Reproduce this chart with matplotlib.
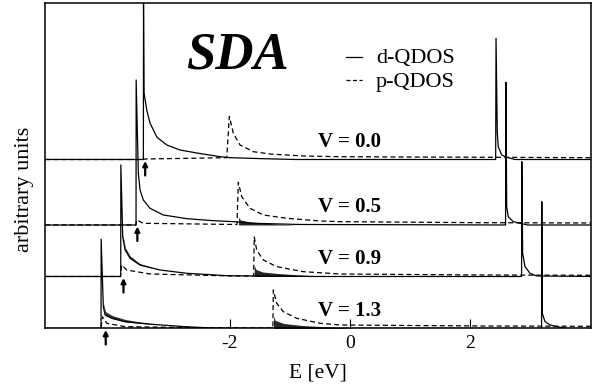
"""
SDA quasi-particle densities of states (d- and p-QDOS) for several V,
stacked with vertical offsets.
"""

import numpy as np
import matplotlib
matplotlib.use("Agg")
import matplotlib.pyplot as plt
from matplotlib.lines import Line2D

plt.rcParams['font.family'] = ['Liberation Serif', 'DejaVu Serif']
plt.rcParams['axes.unicode_minus'] = False

# =============================================================================
# Data (E in eV, heights in arbitrary units)
# =============================================================================

v_labels = ["V = 0.0", "V = 0.5", "V = 0.9", "V = 1.3"]
offsets = [1.69, 1.035, 0.52, 0.0]

# V = 0.0
d00_E = [-5.06, -3.43, -3.428, -3.419, -3.374, -3.320, -3.208, -3.042, -2.822, -2.544,
         -2.158, -1.992, -1.444, -0.9, 2.418, 2.424, 2.445, 2.461, 2.518, 2.601, 2.74, 4.02]
d00_h = [0, 0, 1.65, 0.665, 0.495, 0.365, 0.225, 0.145, 0.095, 0.065,
         0.028, 0.018, 0.008, 0.0, 0, 1.212, 0.265, 0.128, 0.045, 0.022, 0, 0]
p00_E = [-5.06, -3.43, -3.40, -2.046, -2.003, -1.937, -1.826, -1.605, -1.328, -0.775,
         -0.166, 0.83, 2.42, 4.02]
p00_h = [0, 0, 0.005, 0.018, 0.432, 0.262, 0.145, 0.078, 0.055, 0.035,
         0.028, 0.025, 0.022, 0.018]

# V = 0.5
d05_E = [-5.06, -3.552, -3.550, -3.514, -3.485, -3.431, -3.320, -3.099, -2.710, -2.269,
         -1.909, -1.61, -0.83, 2.582, 2.588, 2.601, 2.627, 2.710, 2.822, 2.95, 4.02]
d05_h = [0, 0, 1.45, 0.517, 0.35, 0.25, 0.167, 0.10, 0.063, 0.043,
         0.033, 0.017, 0.005, 0, 1.427, 0.183, 0.083, 0.033, 0.017, 0, 0]
p05_E = [-5.06, -3.556, -3.540, -3.431, -2.158, -1.876, -1.854, -1.797, -1.66, -1.439,
         -1.051, -0.498, -0.166, 2.16, 4.02]
p05_h = [0, 0, 0.05, 0.017, 0.007, 0.005, 0.427, 0.283, 0.167, 0.10,
         0.067, 0.04, 0.033, 0.023, 0.02]

# V = 0.9
d09_E = [-5.06, -3.806, -3.804, -3.773, -3.734, -3.651, -3.485, -3.154, -2.71, -2.046,
         -1.605, -0.5, 2.848, 2.852, 2.866, 2.905, 2.988, 3.099, 4.02]
d09_h = [0, 0, 1.115, 0.398, 0.265, 0.182, 0.115, 0.065, 0.032, 0.008,
         0.005, 0, 0, 1.148, 0.232, 0.098, 0.032, 0.005, 0]
p09_E = [-5.06, -3.81, -3.79, -3.707, -3.32, -1.94, -1.60, -1.59, -1.549, -1.439,
         -1.217, -0.775, -0.166, 2.16, 4.02]
p09_h = [0, 0, 0.115, 0.065, 0.025, 0.005, 0.005, 0.395, 0.265, 0.165,
         0.098, 0.048, 0.025, 0.015, 0.012]

# V = 1.3
d13_E = [-5.06, -4.133, -4.131, -4.095, -4.066, -3.955, -3.734, -3.291, -2.739, -2.19,
         3.18, 3.184, 3.192, 3.237, 3.32, 3.431, 3.6, 4.02]
d13_h = [0, 0, 0.892, 0.218, 0.135, 0.102, 0.068, 0.042, 0.018, 0.002,
         0, 1.268, 0.152, 0.068, 0.035, 0.018, 0, 0]
p13_E = [-5.06, -4.133, -4.111, -4.038, -3.734, -2.5, -1.28, -1.273, -1.217, -1.107,
         -0.885, -0.498, -0.166, 2.16, 4.02]
p13_h = [0, 0, 0.118, 0.052, 0.018, 0.008, 0.005, 0.385, 0.252, 0.168,
         0.102, 0.052, 0.035, 0.025, 0.022]

# numerical noise on the d-QDOS just above the p band edge (upper envelope)
noise05_E = [-1.85, -1.82, -1.7, -1.5, -1.2, -0.9]
noise05_h = [0.08, 0.05, 0.035, 0.022, 0.01, 0.0]
noise09_E = [-1.59, -1.56, -1.45, -1.2, -0.9, -0.6, -0.3]
noise09_h = [0.11, 0.07, 0.045, 0.03, 0.018, 0.008, 0.0]
noise13_E = [-1.27, -1.24, -1.1, -0.8, -0.5, -0.2, 0.1]
noise13_h = [0.12, 0.08, 0.05, 0.03, 0.02, 0.01, 0.0]

# thick (noisy) part of the d-QDOS right after the lower band edge
edge09_E = [-3.77, -3.73, -3.65, -3.49, -3.3]
edge09_lo = [0.39, 0.26, 0.18, 0.113, 0.085]
edge09_hi = [0.42, 0.29, 0.205, 0.13, 0.092]
edge13_E = [-4.09, -4.06, -3.95, -3.73, -3.5, -3.3]
edge13_lo = [0.21, 0.13, 0.1, 0.066, 0.052, 0.041]
edge13_hi = [0.25, 0.17, 0.13, 0.09, 0.066, 0.048]

# band edge arrows
arrow_E = [-3.40, -3.53, -3.76, -4.055]

d_curves = [(d00_E, d00_h), (d05_E, d05_h), (d09_E, d09_h), (d13_E, d13_h)]
p_curves = [(p00_E, p00_h), (p05_E, p05_h), (p09_E, p09_h), (p13_E, p13_h)]
noise = [None, (noise05_E, noise05_h), (noise09_E, noise09_h), (noise13_E, noise13_h)]
edge_noise = [None, None, (edge09_E, edge09_lo, edge09_hi), (edge13_E, edge13_lo, edge13_hi)]

# =============================================================================
# Plot
# =============================================================================

fig = plt.figure(figsize=(5.97, 3.88), dpi=100)
ax = fig.add_axes([0.0762, 0.1534, 0.9137, 0.8381])

dash = (0, (4, 2.5))
for i, off in enumerate(offsets):
    dE, dh = d_curves[i]
    pE, ph = p_curves[i]
    ax.plot(dE, np.array(dh) + off, color='k', lw=0.9)
    ax.plot(pE, np.array(ph) + off, color='k', lw=0.9, linestyle=dash)
    if noise[i] is not None:
        nE, nh = noise[i]
        ax.fill_between(nE, off, np.array(nh) + off, color='k', alpha=0.85, lw=0)
    if edge_noise[i] is not None:
        eE, lo, hi = edge_noise[i]
        ax.fill_between(eE, np.array(lo) + off, np.array(hi) + off,
                        color='k', alpha=0.8, lw=0)
    ax.annotate("", xy=(arrow_E[i], off - 0.015), xytext=(arrow_E[i], off - 0.16),
                arrowprops=dict(arrowstyle='-|>', lw=1.6, color='k', mutation_scale=7,
                                shrinkA=0, shrinkB=0),
                annotation_clip=False)

# V labels
label_y = [0.5594, 0.3594, 0.1997, 0.0385]
for lab, y in zip(v_labels, label_y):
    ax.text(0.5, y, lab, transform=ax.transAxes, fontsize=15, fontweight='bold',
            ha='left', va='baseline')

ax.text(0.258, 0.80, "SDA", transform=ax.transAxes, fontsize=38,
        fontweight='bold', fontstyle='italic', ha='left', va='baseline')

# legend
ax.add_line(Line2D([0.551, 0.581], [0.8345, 0.8345], transform=ax.transAxes,
                   color='k', lw=0.9))
ax.add_line(Line2D([0.551, 0.581], [0.7646, 0.7646], transform=ax.transAxes,
                   color='k', lw=0.9, linestyle=(0, (3.2, 2.0))))
ax.text(0.6055, 0.816, "d-QDOS", transform=ax.transAxes, fontsize=16,
        ha='left', va='baseline')
ax.text(0.6055, 0.742, "p-QDOS", transform=ax.transAxes, fontsize=16,
        ha='left', va='baseline')

ax.set_xlim(-5.055, 4.0)
ax.set_ylim(0, 3.252)
ax.set_xticks([-2, 0, 2])
ax.set_xticklabels(["-2", "0", "2"])
ax.set_yticks([])
ax.tick_params(axis='x', direction='in', length=6.5, width=0.8, labelsize=14, pad=5,
               top=False)
for s in ax.spines.values():
    s.set_linewidth(1.1)

ax.set_xlabel("E [eV]", fontsize=15.5, labelpad=8)
fig.text(25 / 597, 1 - 189 / 388, "arbitrary units", rotation=90, fontsize=16,
         ha='center', va='center')

fig.savefig("out.png", dpi=100)
